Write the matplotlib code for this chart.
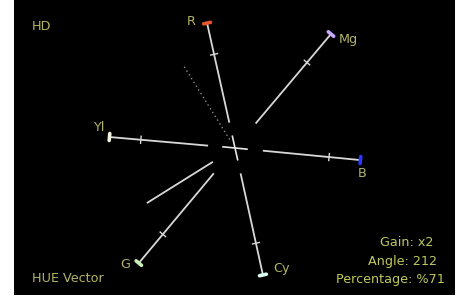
import numpy as np
import matplotlib
matplotlib.use("Agg")
import matplotlib.pyplot as plt

# ---- data -------------------------------------------------------------
targets = ["R", "Mg", "B", "Cy", "G", "Yl"]
target_angles = [102.6, 49.9, 354.5, 282.4, 230.1, 175.0]       # degrees
target_radius = [128, 149, 126, 130, 150, 126]                  # outer end
target_inner = [26, 32, 28, 26, 33, 27]                         # start of line
tick_fraction = 0.75
hue_angle = 212            # degrees
hue_percentage = 71        # %
gain_label = "x2"
full_scale = 145

# ---- style ------------------------------------------------------------
marker_colors = ["#e8542c", "#c8a8ff", "#2838ff", "#d8fff0", "#c8f0b8", "#f0f0e0"]
label_offsets = [(-16, 2), (17, -5), (2, -13), (19, 6), (-14, -1), (-11, 10)]
line_color = "#d8d8d8"
text_color = "#b4b464"
text_color2 = "#c0c85a"
FS = 9.2

fig = plt.figure(figsize=(4.61, 2.97), dpi=100, facecolor="white")
ax = fig.add_axes([14 / 461, 2 / 297, 441 / 461, 295 / 297])
ax.set_facecolor("black")
ax.set_xlim(-221, 220)
ax.set_ylim(-147, 148)
ax.set_aspect("equal", adjustable="box")
ax.axis("off")
ax.add_patch(plt.Rectangle((-221, -147), 441, 295, color="black", zorder=0))


def unit(a):
    t = np.deg2rad(a)
    return np.array([np.cos(t), np.sin(t)])


for name, a, r, ri, mc, off in zip(targets, target_angles, target_radius,
                                   target_inner, marker_colors, label_offsets):
    u = unit(a)
    p = np.array([-u[1], u[0]])
    p0, p1 = u * ri, u * r
    ax.plot([p0[0], p1[0]], [p0[1], p1[1]], color=line_color, lw=1.3,
            solid_capstyle="butt", zorder=2)
    tp = u * r * tick_fraction
    t0, t1 = tp - p * 3.5, tp + p * 3.5
    ax.plot([t0[0], t1[0]], [t0[1], t1[1]], color=line_color, lw=1.0, zorder=2)
    m0, m1 = p1 - p * 3.5, p1 + p * 3.5
    ax.plot([m0[0], m1[0]], [m0[1], m1[1]], color=mc, lw=2.6,
            solid_capstyle="round", zorder=3)
    ax.text(p1[0] + off[0], p1[1] + off[1], name, color=text_color,
            fontsize=FS, ha="center", va="center", zorder=4)

# center cross along the Yl-B and R-Cy axes
for a in (target_angles[2], target_angles[0]):
    u = unit(a)
    ax.plot([-12 * u[0], 12 * u[0]], [-12 * u[1], 12 * u[1]],
            color="#e8e8e8", lw=1.2, zorder=2)

# hue vector
u = unit(hue_angle)
h0, h1 = u * 27, u * full_scale * hue_percentage / 100
ax.plot([h0[0], h1[0]], [h0[1], h1[1]], color=line_color, lw=1.3, zorder=2)

# dotted perpendicular reference
u = unit(hue_angle - 90)
d0, d1 = u * 10, u * 96
ax.plot([d0[0], d1[0]], [d0[1], d1[1]], color="#8a8a8a", lw=1.0,
        linestyle=(0, (1, 2.2)), zorder=1)

# texts (axes-pixel positions)
ax.text(-203, 122, "HD", color=text_color, fontsize=FS, ha="left", va="center")
ax.text(-203, -131, "HUE Vector", color=text_color, fontsize=FS, ha="left", va="center")
ax.text(198, -95, f"Gain: {gain_label}", color=text_color2, fontsize=FS,
        ha="right", va="center")
ax.text(202, -114, f"Angle: {hue_angle}", color=text_color2, fontsize=FS,
        ha="right", va="center")
ax.text(210, -131, f"Percentage: %{hue_percentage}", color=text_color2,
        fontsize=FS, ha="right", va="center")

fig.savefig("out.png", dpi=100, facecolor="white")
